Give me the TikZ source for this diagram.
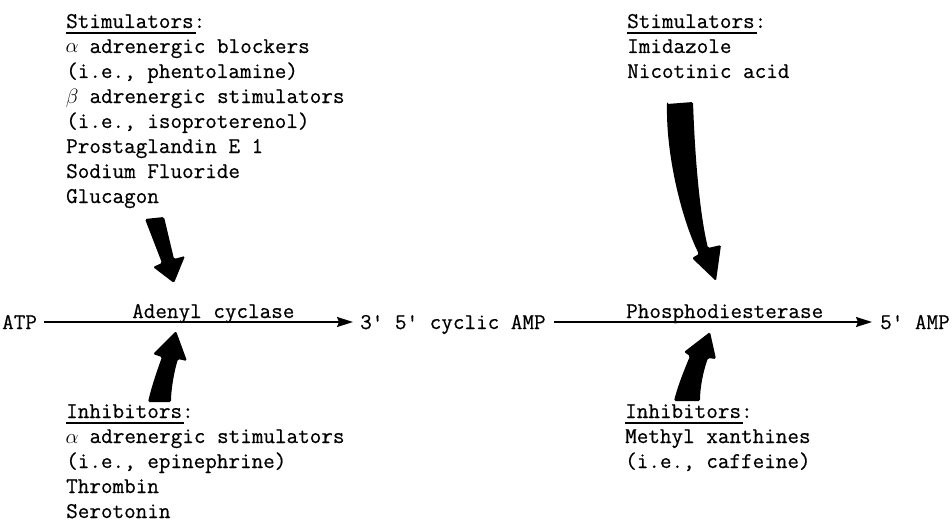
\documentclass[tikz,border=0pt]{standalone}
\usepackage{fontspec}
\newfontfamily\twfont{Latin Modern Mono}[FakeBold=0.5]
\usetikzlibrary{arrows.meta}
\newcommand{\galpha}{\makebox[0.525em]{$\alpha$}}
\newcommand{\gbeta}{\makebox[0.525em]{$\beta$}}
\begin{document}
\begin{tikzpicture}[x=1pt,y=-1pt,
  txt/.style={anchor=base west, inner sep=0pt, font=\twfont\fontsize{22.5}{25}\selectfont},
  mainnode/.style={txt, text height=14pt, text depth=0pt},
  uline/.style={line width=1.2pt},
  flow/.style={line width=1.5pt, -{Stealth[length=16pt,width=10pt,inset=2pt]}},
  blockarrow/.style={fill=black, rounded corners=1.5pt}]
\useasboundingbox (0,0) rectangle (952,532);

% top-left stimulators
\node[txt] (tl0) at (66,28)  {Stimulators:};
\node[txt] (tl1) at (66,53)  {\galpha{} adrenergic blockers};
\node[txt] (tl2) at (66,78)  {(i.e., phentolamine)};
\node[txt] (tl3) at (66,103) {\gbeta{} adrenergic stimulators};
\node[txt] (tl4) at (66,128) {(i.e., isoproterenol)};
\node[txt] (tl5) at (66,153) {Prostaglandin E 1};
\node[txt] (tl6) at (66,178) {Sodium Fluoride};
\node[txt] (tl7) at (66,203) {Glucagon};
\draw[uline] ([yshift=-5pt]tl0.base west) -- ++(130,0);

% bottom-left inhibitors
\node[txt] (bl0) at (66,418) {Inhibitors:};
\node[txt] (bl1) at (66,443) {\galpha{} adrenergic stimulators};
\node[txt] (bl2) at (66,468) {(i.e., epinephrine)};
\node[txt] (bl3) at (66,493) {Thrombin};
\node[txt] (bl4) at (66,518) {Serotonin};
\draw[uline] ([yshift=-5pt]bl0.base west) -- ++(118,0);

% top-right stimulators
\node[txt] (tr0) at (627,28) {Stimulators:};
\node[txt] (tr1) at (627,53) {Imidazole};
\node[txt] (tr2) at (627,78) {Nicotinic acid};
\draw[uline] ([yshift=-5pt]tr0.base west) -- ++(130,0);

% bottom-right inhibitors
\node[txt] (br0) at (625,418) {Inhibitors:};
\node[txt] (br1) at (625,443) {Methyl xanthines};
\node[txt] (br2) at (625,468) {(i.e., caffeine)};
\draw[uline] ([yshift=-5pt]br0.base west) -- ++(118,0);

% main reaction line
\node[mainnode] (atp)  at (2,329)   {ATP};
\node[mainnode] (camp) at (360,329) {3' 5' cyclic AMP};
\node[mainnode] (amp)  at (880,329) {5' AMP};
\node[txt] (adenyl)  at (132,318) {Adenyl cyclase};
\node[txt] (phospho) at (626,318) {Phosphodiesterase};
\draw[flow] ([xshift=7pt]atp.east) -- ([xshift=-7pt]camp.west);
\draw[flow] ([xshift=8pt]camp.east) -- ([xshift=-8pt]amp.west);

% block arrows
\fill[blockarrow] (145,219) -- (164,217) -- (174,259) -- (185,256) -- (174,283)
  -- (153,267) -- (162,263) -- cycle;
\fill[blockarrow] (148,402) .. controls (152,385) and (158,368) .. (162,357)
  -- (153,354) -- (176,331) -- (187,361) -- (178,359)
  .. controls (174,372) and (171,390) .. (171,402) -- cycle;
\fill[blockarrow] (667,104) -- (693,102) .. controls (695,160) and (700,215) .. (708,248)
  -- (721,245) -- (716,281) -- (692,258) -- (699,254)
  .. controls (684,225) and (666,160) .. (667,104) -- cycle;
\fill[blockarrow] (674,401) .. controls (678,385) and (685,368) .. (690,356)
  -- (684,352) -- (710,332) -- (716,359) -- (708,358)
  .. controls (703,372) and (700,388) .. (700,401) -- cycle;
\end{tikzpicture}
\end{document}
